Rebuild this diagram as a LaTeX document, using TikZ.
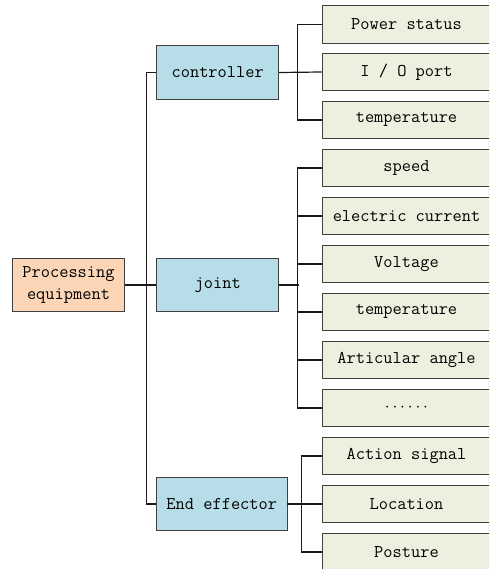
\documentclass[tikz,border=0pt]{standalone}
\begin{document}
\begin{tikzpicture}[x=1pt,y=-1pt,
  box/.style={draw=black!75,line width=0.9pt,inner sep=0pt,align=center,
    font=\fontsize{17.9}{22.5}\selectfont\ttfamily},
  leaf/.style={box,fill=leafgreen,minimum width=169pt,minimum height=37.5pt},
  mid/.style={box,fill=midblue,minimum height=53.5pt},
  root/.style={box,fill=rootorange,minimum width=111.6pt,minimum height=53.5pt},
  conn/.style={draw=black!90,line width=1.2pt}]
\definecolor{leafgreen}{HTML}{EBF1DE}
\definecolor{midblue}{HTML}{B7DDE8}
\definecolor{rootorange}{HTML}{FBD5B5}
\path[use as bounding box] (0,0) rectangle (489,569);
\clip (0,0) rectangle (489,569);
% root
\node[root] (proc) at (68.5,285) {Processing\\equipment};
% middle
\node[mid,minimum width=122pt] (ctrl) at (217.7,72.5) {controller};
\node[mid,minimum width=122pt] (joint) at (217.7,285) {joint};
\node[mid,minimum width=130.3pt] (eff) at (221.8,504) {End effector};
% leaves
\node[leaf] (ps) at (406.5,24.5) {Power status};
\node[leaf] (io) at (406.5,72) {I / O port};
\node[leaf] (tmpa) at (406.5,120) {temperature};
\node[leaf] (spd) at (406.5,168) {speed};
\node[leaf] (cur) at (406.5,216) {electric current};
\node[leaf] (vol) at (406.5,264) {Voltage};
\node[leaf] (tmpb) at (406.5,312) {temperature};
\node[leaf] (ang) at (406.5,360) {Articular angle};
\node[leaf] (dts) at (406.5,408) {$\cdots\cdots$};
\node[leaf] (act) at (406.5,456) {Action signal};
\node[leaf] (loc) at (406.5,504) {Location};
\node[leaf] (pos) at (406.5,552) {Posture};
% connectors
\draw[conn] (proc.east) -- (joint.west);
\draw[conn] (ctrl.west) -- ++(-10,0) |- (eff.west);
\draw[conn] (ctrl.east) -- (io.west);
\draw[conn] (ps.west) -- ++(-23.7,0) |- (tmpa.west);
\draw[conn] (joint.east) -- ++(19.6,0) coordinate (jb);
\draw[conn] (spd.west) -- ++(-23.7,0) |- (dts.west);
\draw[conn] (cur.west) -- ++(-23.7,0);
\draw[conn] (vol.west) -- ++(-23.7,0);
\draw[conn] (tmpb.west) -- ++(-23.7,0);
\draw[conn] (ang.west) -- ++(-23.7,0);
\draw[conn] (eff.east) -- (loc.west);
\draw[conn] (act.west) -- ++(-20.3,0) |- (pos.west);
\end{tikzpicture}
\end{document}
